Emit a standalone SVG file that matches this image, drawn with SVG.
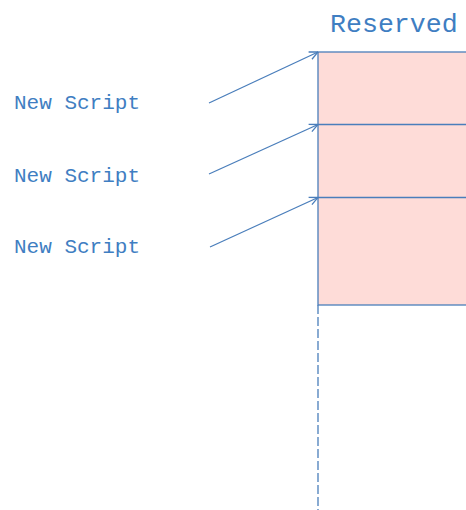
<svg xmlns="http://www.w3.org/2000/svg" width="466" height="510" viewBox="0 0 466 510">
  <style>
    .lbl { font-family: "Liberation Mono", "Courier New", monospace; fill: #3f7ec2; }
    .ln { stroke: #4a7ebb; stroke-width: 1.3; fill: none; }
  </style>
  <defs>
    <marker id="arr" viewBox="0 0 10 10" refX="9.5" refY="5" markerWidth="10" markerHeight="10" markerUnits="userSpaceOnUse" orient="auto">
      <path d="M1,1 L9.5,5 L1,9" fill="none" stroke="#4a7ebb" stroke-width="1.3"/>
    </marker>
  </defs>
  <g id="reserved">
    <rect x="318" y="52" width="160" height="253" fill="#fedcd8" stroke="#4a7ebb" stroke-width="1.3"/>
    <line class="ln" x1="318" y1="124.5" x2="470" y2="124.5"/>
    <line class="ln" x1="318" y1="197.5" x2="470" y2="197.5"/>
    <text class="lbl" x="330" y="32" font-size="26.6">Reserved</text>
  </g>
  <g id="script1"><text class="lbl" x="14" y="109" font-size="21">New Script</text></g>
  <g id="script2"><text class="lbl" x="14" y="182" font-size="21">New Script</text></g>
  <g id="script3"><text class="lbl" x="14" y="253" font-size="21">New Script</text></g>
  <g id="connectors">
    <line class="ln" x1="209" y1="103" x2="318" y2="52" marker-end="url(#arr)"/>
    <line class="ln" x1="209" y1="174" x2="318" y2="124.5" marker-end="url(#arr)"/>
    <line class="ln" x1="210" y1="247" x2="318" y2="197.5" marker-end="url(#arr)"/>
    <line class="ln" x1="318" y1="305" x2="318" y2="510" stroke-dasharray="9 3"/>
  </g>
</svg>
